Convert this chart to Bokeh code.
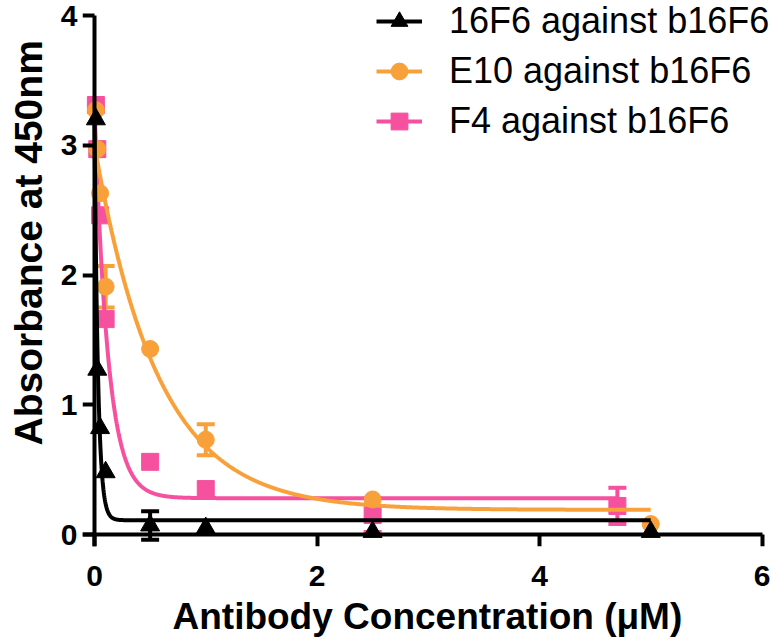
import numpy as np
from bokeh.plotting import figure
from bokeh.models import (Range1d, Whisker, TeeHead, ColumnDataSource, Legend,
                          LegendItem, Title, FixedTicker, LinearAxis)
from bokeh.embed import file_html
from bokeh.resources import INLINE

# ---------------- data ----------------
conc_16f6 = [0.0125, 0.025, 0.05, 0.1, 0.5, 1.0, 2.5, 5.0]
abs_16f6 = [3.20, 1.27, 0.82, 0.48, 0.07, 0.05, 0.02, 0.02]
err_16f6 = [0, 0, 0, 0, 0.11, 0, 0, 0]

conc_e10 = [0.0125, 0.025, 0.05, 0.1, 0.5, 1.0, 2.5, 5.0]
abs_e10 = [3.27, 2.97, 2.63, 1.91, 1.43, 0.73, 0.27, 0.08]
err_e10 = [0, 0, 0, 0.16, 0, 0.12, 0, 0]

conc_f4 = [0.0125, 0.025, 0.05, 0.1, 0.5, 1.0, 2.5, 4.7]
abs_f4 = [3.31, 2.97, 2.46, 1.66, 0.56, 0.35, 0.15, 0.22]
err_f4 = [0, 0, 0, 0, 0, 0, 0.13, 0.14]

# one-phase decay fits: [Y0, plateau, K]
fit_16f6 = [3.20, 0.11, 32.0]
fit_e10 = [3.00, 0.19, 1.75]
fit_f4 = [3.30, 0.28, 8.3]

labels = ["16F6 against b16F6", "E10 against b16F6", "F4 against b16F6"]
x_ticks = [0, 2, 4, 6]
y_ticks = [0, 1, 2, 3, 4]
x_title = "Antibody Concentration (\u03bcM)"
y_title = "Absorbance at 450nm"

BLACK = "#000000"
ORANGE = "#F8A13B"
PINK = "#F6519F"

# ---------------- layout ----------------
W, H = 771, 644
PPX, PPY = 111.25, 129.75
PAD = 12
ORIGIN_X, ORIGIN_Y = 94, 534          # pixel position of (0, 0)
LEFT, TOP, RIGHT = ORIGIN_X - PAD, 0, 0
BOTTOM = H - (ORIGIN_Y + PAD)
X0, X1 = -PAD / PPX, (W - ORIGIN_X) / PPX
Y0, Y1 = -PAD / PPY, ORIGIN_Y / PPY

p = figure(width=W, height=H, output_backend="svg", toolbar_location=None,
           x_range=Range1d(X0, X1), y_range=Range1d(Y0, Y1),
           x_axis_location=None, y_axis_location=None,
           min_border_left=LEFT, min_border_right=RIGHT,
           min_border_top=TOP, min_border_bottom=BOTTOM)
p.outline_line_color = None
p.xgrid.visible = False
p.ygrid.visible = False
p.background_fill_color = "white"


def label_axis(ticks, standoff):
    ax = LinearAxis(ticker=FixedTicker(ticks=ticks))
    ax.axis_line_color = None
    ax.major_tick_line_color = None
    ax.major_tick_out = 0
    ax.major_tick_in = 0
    ax.minor_tick_line_color = None
    ax.major_label_standoff = standoff
    ax.major_label_text_font = "Liberation Sans"
    ax.major_label_text_font_style = "bold"
    ax.major_label_text_font_size = "30px"
    ax.major_label_text_color = "black"
    return ax


def line_axis(ticks, bounds):
    ax = LinearAxis(fixed_location=0, ticker=FixedTicker(ticks=ticks), bounds=bounds)
    ax.axis_line_width = 4
    ax.axis_line_color = "black"
    ax.major_tick_line_width = 4
    ax.major_tick_line_color = "black"
    ax.major_tick_out = 12
    ax.major_tick_in = 0
    ax.minor_tick_line_color = None
    ax.major_label_standoff = 0
    ax.major_label_text_color = None
    ax.major_label_text_font_size = "1px"
    return ax


def axis_title(text, offset, standoff, size, valign):
    return Title(text=text, align="left", offset=offset, standoff=standoff,
                 vertical_align=valign,
                 text_font="Liberation Sans", text_font_style="bold",
                 text_font_size=size, text_color="black")


p.add_layout(label_axis(x_ticks, 19), "below")
p.add_layout(line_axis(x_ticks, (X0, max(x_ticks))), "below")
p.add_layout(axis_title(x_title, 90, 11, "37px", "bottom"), "below")
p.add_layout(label_axis(y_ticks, 5), "left")
p.add_layout(line_axis(y_ticks, (Y0, max(y_ticks))), "left")
p.add_layout(axis_title(y_title, 101, 12, "39px", "top"), "left")


def decay_curve(xmax, params):
    y0, plateau, k = params
    xs = np.linspace(0, xmax, 1500)
    return xs, plateau + (y0 - plateau) * np.exp(-k * xs)


def add_errors(xs, ys, es, color):
    xs, ys, es = np.array(xs), np.array(ys), np.array(es)
    m = es > 0
    src = ColumnDataSource(dict(x=xs[m], lo=ys[m] - es[m], hi=ys[m] + es[m]))
    w = Whisker(source=src, base="x", upper="hi", lower="lo",
                line_color=color, line_width=4,
                upper_head=TeeHead(size=18, line_color=color, line_width=4),
                lower_head=TeeHead(size=18, line_color=color, line_width=4))
    p.add_layout(w)


series = [
    (conc_f4, abs_f4, err_f4, fit_f4, PINK, "square", 17),
    (conc_e10, abs_e10, err_e10, fit_e10, ORANGE, "circle", 17),
    (conc_16f6, abs_16f6, err_16f6, fit_16f6, BLACK, "triangle", 19),
]
renderers = []
for xs, ys, es, fit, color, marker, size in series:
    add_errors(xs, ys, es, color)
    cx, cy = decay_curve(max(xs), fit)
    lr = p.line(cx, cy, line_color=color, line_width=4)
    sr = p.scatter(xs, ys, marker=marker, size=size, fill_color=color,
                   line_color=color, line_width=1)
    renderers.append((lr, sr))

items = [LegendItem(label=labels[0], renderers=list(renderers[2])),
         LegendItem(label=labels[1], renderers=list(renderers[1])),
         LegendItem(label=labels[2], renderers=list(renderers[0]))]
legend = Legend(items=items, location=(294, 404))
legend.border_line_color = None
legend.background_fill_alpha = 0
legend.padding = 0
legend.margin = 0
legend.spacing = 8
legend.glyph_width = 46
legend.glyph_height = 42
legend.label_height = 42
legend.label_standoff = 27
legend.label_text_font = "Liberation Sans"
legend.label_text_font_size = "36px"
legend.label_text_color = "black"
p.add_layout(legend)

open("out.html", "w").write(file_html(p, INLINE))
